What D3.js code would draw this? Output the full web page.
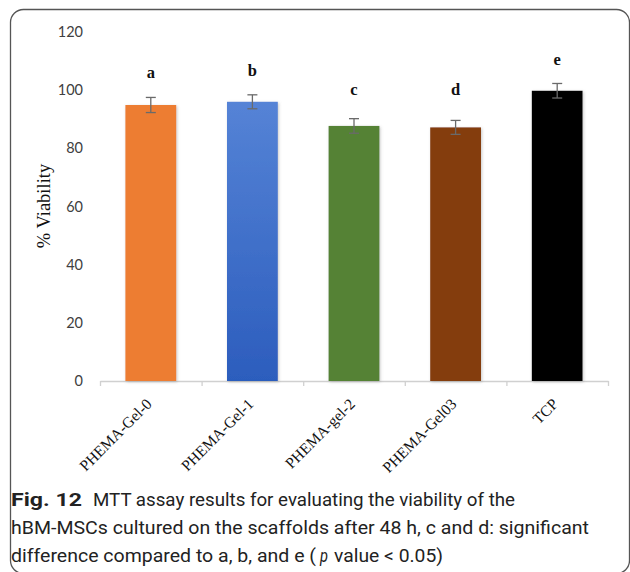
<!DOCTYPE html>
<html>
<head>
<meta charset="utf-8">
<script src="https://cdn.jsdelivr.net/npm/d3@7"></script>
<style>
  body { margin: 0; background: #fff; }
  svg { display: block; }
</style>
</head>
<body>
<div id="chart"></div>
<script>
// data
const categories = ["PHEMA-Gel-0", "PHEMA-Gel-1", "PHEMA-gel-2", "PHEMA-Gel03", "TCP"];
const viability = [94.9, 96.0, 87.7, 87.2, 99.8];
const errors = [2.6, 2.4, 2.5, 2.4, 2.5];
const groupLetters = ["a", "b", "c", "d", "e"];
const letterLevels = [104.1, 104.9, 98.4, 98.4, 108.7];
const yTicks = [0, 20, 40, 60, 80, 100, 120];
const barColors = ["#ed7d31", "url(#blueGrad)", "#548235", "#843c0c", "#000000"];

const width = 630, height = 572;

const svg = d3.select("#chart")
  .append("svg")
  .attr("width", width)
  .attr("height", height);

const defs = svg.append("defs");
const grad = defs.append("linearGradient")
  .attr("id", "blueGrad")
  .attr("x1", 0).attr("y1", 0).attr("x2", 0).attr("y2", 1);
grad.append("stop").attr("offset", "0%").attr("stop-color", "#5583d6");
grad.append("stop").attr("offset", "100%").attr("stop-color", "#2c5dbd");

const shadow = defs.append("filter")
  .attr("id", "barShadow")
  .attr("x", "-20%").attr("y", "-5%").attr("width", "140%").attr("height", "110%");
shadow.append("feDropShadow")
  .attr("dx", 1).attr("dy", 1)
  .attr("stdDeviation", 1.6)
  .attr("flood-color", "#888")
  .attr("flood-opacity", 0.45);

// rounded frame around figure + caption
svg.append("rect")
  .attr("x", 10.5).attr("y", 9.5)
  .attr("width", 619).attr("height", 564)
  .attr("rx", 13).attr("ry", 13)
  .attr("fill", "none")
  .attr("stroke", "#555")
  .attr("stroke-width", 1.3);

// scales
const x = d3.scaleBand()
  .domain(categories)
  .range([100, 608])
  .paddingInner(0.5)
  .paddingOuter(0.25);

const y = d3.scaleLinear()
  .domain([0, 120])
  .range([381, 32]);

const xEdges = d3.scaleLinear()
  .domain([0, categories.length])
  .range([100, 608]);

// x axis line with boundary ticks
const xAxis = svg.append("g")
  .attr("transform", "translate(0," + y(0) + ")")
  .call(d3.axisBottom(xEdges)
    .tickValues(d3.range(categories.length + 1))
    .tickSizeInner(5)
    .tickSizeOuter(0)
    .tickFormat(""));
xAxis.select(".domain").attr("stroke", "#d0d0d0").attr("stroke-width", 1.3);
xAxis.selectAll(".tick line").attr("stroke", "#d0d0d0").attr("stroke-width", 1.3);

// y axis, labels only
const yAxis = svg.append("g")
  .attr("transform", "translate(92,0)")
  .call(d3.axisLeft(y)
    .tickValues(yTicks)
    .tickSize(0)
    .tickPadding(9));
yAxis.select(".domain").remove();
yAxis.selectAll("text")
  .attr("font-family", "Lato, 'Open Sans', sans-serif")
  .attr("font-size", 14.5)
  .attr("fill", "#404040");

// bars
svg.selectAll(".bar")
  .data(viability)
  .enter().append("rect")
  .attr("class", "bar")
  .attr("x", function (d, i) { return x(categories[i]); })
  .attr("width", x.bandwidth())
  .attr("y", function (d) { return y(d); })
  .attr("height", function (d) { return y(0) - y(d); })
  .attr("fill", function (d, i) { return barColors[i]; })
  .attr("filter", "url(#barShadow)");

// error bars
const errG = svg.append("g")
  .attr("stroke", "#6a6a6a")
  .attr("stroke-width", 1.3)
  .attr("fill", "none");
viability.forEach(function (v, i) {
  const cx = x(categories[i]) + x.bandwidth() / 2;
  const top = y(v + errors[i]), bot = y(v - errors[i]);
  errG.append("line").attr("x1", cx).attr("x2", cx).attr("y1", top).attr("y2", bot);
  errG.append("line").attr("x1", cx - 5).attr("x2", cx + 5).attr("y1", top).attr("y2", top);
  errG.append("line").attr("x1", cx - 5).attr("x2", cx + 5).attr("y1", bot).attr("y2", bot);
});

// significance letters
svg.selectAll(".letter")
  .data(groupLetters)
  .enter().append("text")
  .attr("class", "letter")
  .attr("x", function (d, i) { return x(categories[i]) + x.bandwidth() / 2; })
  .attr("y", function (d, i) { return y(letterLevels[i]); })
  .attr("text-anchor", "middle")
  .attr("font-family", "'Liberation Serif', 'Times New Roman', serif")
  .attr("font-weight", "bold")
  .attr("font-size", 16.5)
  .attr("fill", "#111")
  .text(function (d) { return d; });

// rotated category labels
svg.selectAll(".xlabel")
  .data(categories)
  .enter().append("text")
  .attr("class", "xlabel")
  .attr("transform", function (d) {
    return "translate(" + (x(d) + x.bandwidth() / 2 + 2) + ",405) rotate(-45)";
  })
  .attr("text-anchor", "end")
  .attr("font-family", "'Liberation Serif', 'Times New Roman', serif")
  .attr("font-size", 15.5)
  .attr("fill", "#111")
  .text(function (d) { return d; });

// y axis title
svg.append("text")
  .attr("transform", "translate(50,206) rotate(-90)")
  .attr("text-anchor", "middle")
  .attr("font-family", "'Liberation Serif', 'Times New Roman', serif")
  .attr("font-size", 18.5)
  .attr("fill", "#111")
  .text("% Viability");

// caption
const cap = svg.append("g")
  .attr("font-family", "Roboto, 'Noto Sans', sans-serif")
  .attr("font-size", 19)
  .attr("fill", "#222");

function capText(x0, y0, len, str) {
  return cap.append("text")
    .attr("x", x0).attr("y", y0)
    .attr("textLength", len)
    .attr("lengthAdjust", "spacingAndGlyphs")
    .text(str);
}

capText(11, 506, 71, "Fig. 12").attr("font-weight", "bold");
capText(93, 506, 422, "MTT assay results for evaluating the viability of the");
capText(11, 534, 578, "hBM-MSCs cultured on the scaffolds after 48 h, c and d: significant");
capText(11, 562, 305, "difference compared to a, b, and e (");
capText(320, 562, 8, "p").attr("font-style", "italic");
capText(334, 562, 109, "value < 0.05)");
</script>
</body>
</html>
